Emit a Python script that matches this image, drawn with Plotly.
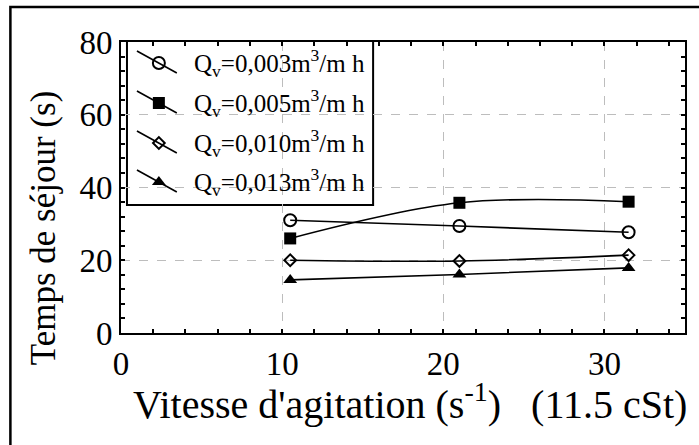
import plotly.graph_objects as go

# Agitation speed (s^-1) and residence times (s) for four flow rates
vitesse = [10.5, 21.0, 31.5]
temps_003 = [31.0, 29.4, 27.7]
temps_005 = [26.0, 35.8, 36.1]
temps_010 = [20.0, 19.8, 21.4]
temps_013 = [14.6, 16.1, 17.9]

labels = [
    "Q<sub>v</sub>=0,003m<sup>3</sup>/m h",
    "Q<sub>v</sub>=0,005m<sup>3</sup>/m h",
    "Q<sub>v</sub>=0,010m<sup>3</sup>/m h",
    "Q<sub>v</sub>=0,013m<sup>3</sup>/m h",
]
series = [temps_003, temps_005, temps_010, temps_013]
markers = [
    dict(symbol="circle-open", size=12, color="black", line=dict(width=2)),
    dict(symbol="square", size=12, color="black"),
    dict(symbol="diamond-open", size=9, color="black", line=dict(width=2)),
    dict(symbol="triangle-up", size=12, color="black"),
]

FONT = "Liberation Serif, Times New Roman, serif"
W, H = 699, 445
L, R, T, B = 121, 687, 42, 333

fig = go.Figure()
for lab, ys, mk in zip(labels, series, markers):
    fig.add_trace(go.Scatter(
        x=vitesse, y=ys, mode="lines+markers", name=lab,
        line=dict(color="black", width=1.6, shape="spline", smoothing=1.0),
        marker=mk, showlegend=False, cliponaxis=False,
    ))

# Hand-drawn legend on an overlay axis measured in pixels
rows = [63, 103, 143, 182]
for r, mk, lab in zip(rows, markers, labels):
    fig.add_trace(go.Scatter(
        x=[137, 159, 177], y=[r - 12, r, r + 10], mode="lines",
        line=dict(color="black", width=1.6), xaxis="x2", yaxis="y2",
        showlegend=False, hoverinfo="skip", cliponaxis=False,
    ))
    fig.add_trace(go.Scatter(
        x=[159], y=[r], mode="markers", marker=mk, xaxis="x2", yaxis="y2",
        showlegend=False, hoverinfo="skip", cliponaxis=False,
    ))
    fig.add_annotation(
        x=192, y=r, xref="x2", yref="y2", text=lab, showarrow=False,
        xanchor="left", yanchor="middle",
        font=dict(family=FONT, size=25, color="black"),
    )

fig.add_shape(type="rect", xref="x2", yref="y2", x0=127, x1=374, y0=39, y1=205,
              line=dict(color="black", width=2), fillcolor="white", layer="below")

# Outer frame of the figure
fig.add_shape(type="rect", xref="paper", yref="paper",
              x0=(10 - L) / (R - L), x1=(710 - L) / (R - L),
              y0=(B - 460) / (B - T), y1=(B - 7) / (B - T),
              line=dict(color="black", width=2.5))

axis_common = dict(
    showline=True, linecolor="black", linewidth=2, mirror="ticks",
    ticks="inside", ticklen=4, tickwidth=1.5, tickcolor="black",
    showgrid=True, gridcolor="#bdbdbd", griddash="dash", gridwidth=1,
    zeroline=False, tickfont=dict(family=FONT, size=33, color="black"),
)

fig.update_layout(
    width=W, height=H,
    margin=dict(l=L, r=W - R, t=T, b=H - B),
    paper_bgcolor="white", plot_bgcolor="white",
    xaxis=dict(range=[0, 35], dtick=10, tick0=0,
               minor=dict(dtick=2, ticks="inside", ticklen=4, tickcolor="black", showgrid=False),
               **axis_common),
    yaxis=dict(range=[0, 80], dtick=20, tick0=0,
               minor=dict(dtick=4, ticks="inside", ticklen=4, tickcolor="black", showgrid=False),
               **axis_common),
    xaxis2=dict(range=[L, R], overlaying="x", visible=False, anchor="y2"),
    yaxis2=dict(range=[B, T], overlaying="y", visible=False, anchor="x2"),
    showlegend=False,
)

fig.add_annotation(
    xref="paper", yref="paper", x=(411 - L) / (R - L), y=(B - 401) / (B - T),
    text="Vitesse d'agitation (s<sup>-1</sup>)\u00a0\u00a0\u00a0(11.5 cSt)",
    showarrow=False, xanchor="center", yanchor="middle",
    font=dict(family=FONT, size=40, color="black"),
)
fig.add_annotation(
    xref="paper", yref="paper", x=(44 - L) / (R - L), y=(B - 228) / (B - T),
    text="Temps de séjour (s)", textangle=-90,
    showarrow=False, xanchor="center", yanchor="middle",
    font=dict(family=FONT, size=35, color="black"),
)

fig.write_html("out.html")
